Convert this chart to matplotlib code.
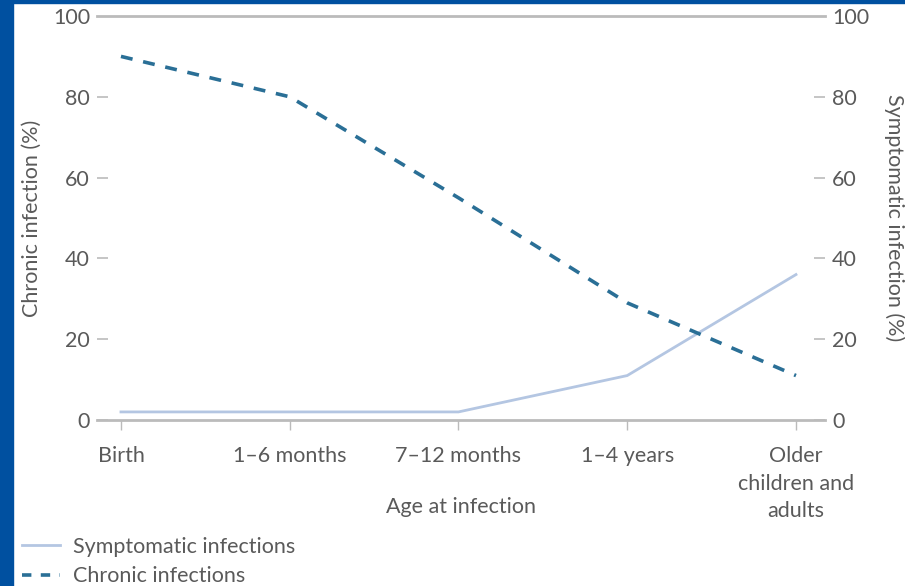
import matplotlib
matplotlib.use("Agg")
import matplotlib.pyplot as plt
from matplotlib.patches import Rectangle
from matplotlib.lines import Line2D

ages = ["Birth", "1–6 months", "7–12 months", "1–4 years", "Older\nchildren and\nadults"]
chronic = [90, 80, 55, 29, 11]
symptomatic = [2, 2, 2, 11, 36]
yticks = [0, 20, 40, 60, 80, 100]

grey = "#5a5a5a"
axis_grey = "#bbbbbb"
chronic_col = "#2a6f96"
sympt_col = "#b4c6e2"
fs = 15.5

plt.rcParams['font.family'] = ['Lato', 'DejaVu Sans']

fig = plt.figure(figsize=(9.05, 5.86), dpi=100)
ax = fig.add_axes([97 / 905, 166 / 586, 728 / 905, 404 / 586])
ax2 = ax.twinx()

x = list(range(len(ages)))
ax.plot(x, symptomatic, color=sympt_col, lw=2)
ax.plot(x, chronic, color=chronic_col, lw=2.6, dashes=(3.3, 3.0))

ax.set_xlim(-0.142, 4.172)
ax.set_ylim(0, 100)

for s in ["left", "right"]:
    ax.spines[s].set_visible(False)
for s in ["top", "bottom"]:
    ax.spines[s].set_color(axis_grey)
    ax.spines[s].set_linewidth(2)

ax.set_xticks(x)
ax.set_xticklabels(ages, color=grey, fontsize=fs, linespacing=1.45)
ax.tick_params(axis="x", direction="out", length=7, color=axis_grey, width=1, pad=12)

ax.set_yticks(yticks)
ax.set_yticklabels([str(v) for v in yticks], color=grey, fontsize=fs)
ax.tick_params(axis="y", direction="in", length=8, color=axis_grey, width=1.2, pad=5,
               left=True, right=True, labelleft=True, labelright=True)
ax.yaxis.get_major_ticks()[-1].tick1line.set_visible(False)
ax.yaxis.get_major_ticks()[-1].tick2line.set_visible(False)

ax.set_xlabel("Age at infection", color=grey, fontsize=fs)
ax.xaxis.set_label_coords(0.5, -0.19)
ax.set_ylabel("Chronic infection (%)", color=grey, fontsize=fs, labelpad=8)

ax2.set_ylim(0, 100)
ax2.set_yticks([])
for s in ax2.spines.values():
    s.set_visible(False)
ax2.set_ylabel("Symptomatic infection (%)", color=grey, fontsize=fs, rotation=270,
               labelpad=57)

handles = [Line2D([], [], color=sympt_col, lw=2),
           Line2D([], [], color=chronic_col, lw=2.6, dashes=(2.6, 2.6))]
fig.legend(handles, ["Symptomatic infections", "Chronic infections"],
           loc="lower left", bbox_to_anchor=(13 / 905, -9 / 586), frameon=False,
           fontsize=fs, labelcolor=grey, handlelength=1.8, handletextpad=0.6,
           labelspacing=0.45, borderaxespad=0)

# blue slide border
fig.patches.append(Rectangle((0, 0), 13 / 905, 1, transform=fig.transFigure,
                             color="#0050a0", zorder=10))
fig.patches.append(Rectangle((0, 1 - 3 / 586), 1, 3 / 586, transform=fig.transFigure,
                             color="#0050a0", zorder=10))

fig.savefig("out.png", dpi=100)
